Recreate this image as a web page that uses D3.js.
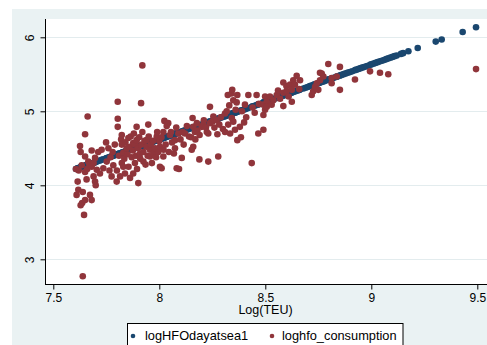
<!DOCTYPE html>
<html>
<head>
<meta charset="utf-8">
<script src="https://cdn.jsdelivr.net/npm/d3@7"></script>
<style>
  html, body { margin: 0; padding: 0; background: #ffffff; }
  svg { display: block; }
  text { font-family: "Liberation Sans", Arial, sans-serif; }
</style>
</head>
<body>
<svg id="chart" width="487" height="345"></svg>
<script>
// Observations: log TEU, observed log HFO consumption (null = missing), fitted log HFO per day at sea
const teu = [
  7.607, 7.610, 7.615, 7.618, 7.620, 7.626, 7.629, 7.629, 7.634, 7.636,
  7.639, 7.639, 7.645, 7.650, 7.650, 7.650, 7.650, 7.657, 7.660, 7.662,
  7.665, 7.670, 7.673, 7.681, 7.681, 7.681, 7.690, 7.690, 7.697, 7.697,
  7.700, 7.705, 7.712, 7.720, 7.728, 7.736, 7.749, 7.752, 7.760, 7.765,
  7.770, 7.775, 7.780, 7.783, 7.790, 7.799, 7.800, 7.804, 7.804, 7.804,
  7.810, 7.815, 7.820, 7.823, 7.823, 7.823, 7.830, 7.830, 7.835, 7.838,
  7.840, 7.846, 7.850, 7.854, 7.855, 7.860, 7.862, 7.865, 7.870, 7.875,
  7.877, 7.877, 7.880, 7.885, 7.885, 7.890, 7.893, 7.893, 7.895, 7.900,
  7.901, 7.905, 7.909, 7.910, 7.914, 7.915, 7.920, 7.920, 7.925, 7.925,
  7.930, 7.935, 7.940, 7.940, 7.945, 7.948, 7.950, 7.956, 7.956, 7.960,
  7.965, 7.970, 7.972, 7.980, 7.985, 7.988, 7.990, 7.995, 8.000, 8.003,
  8.003, 8.010, 8.011, 8.019, 8.019, 8.020, 8.024, 8.030, 8.035, 8.042,
  8.045, 8.050, 8.055, 8.060, 8.069, 8.074, 8.074, 8.080, 8.082, 8.090,
  8.093, 8.100, 8.106, 8.110, 8.115, 8.121, 8.130, 8.140, 8.150, 8.153,
  8.157, 8.160, 8.160, 8.168, 8.170, 8.177, 8.180, 8.189, 8.190, 8.200,
  8.208, 8.210, 8.220, 8.224, 8.231, 8.231, 8.239, 8.239, 8.250, 8.255,
  8.260, 8.270, 8.274, 8.278, 8.283, 8.290, 8.300, 8.310, 8.310, 8.318,
  8.323, 8.325, 8.330, 8.334, 8.341, 8.342, 8.344, 8.349, 8.349, 8.357,
  8.360, 8.365, 8.368, 8.368, 8.380, 8.385, 8.390, 8.400, 8.404, 8.410,
  8.420, 8.436, 8.440, 8.450, 8.459, 8.467, 8.470, 8.491, 8.491, 8.491,
  8.499, 8.499, 8.507, 8.507, 8.515, 8.522, 8.530, 8.538, 8.545, 8.554,
  8.560, 8.570, 8.575, 8.585, 8.585, 8.585, 8.595, 8.600, 8.600, 8.610,
  8.617, 8.625, 8.625, 8.632, 8.640, 8.648, 8.655, 8.660, 8.664, 8.680,
  8.690, 8.700, 8.710, 8.719, 8.726, 8.730, 8.735, 8.743, 8.750, 8.758,
  8.758, 8.766, 8.774, 8.780, 8.790, 8.797, 8.800, 8.813, 8.813, 8.820,
  8.830, 8.837, 8.840, 8.852, 8.852, 8.860, 8.870, 8.880, 8.890, 8.900,
  8.910, 8.923, 8.930, 8.940, 8.950, 8.960, 8.970, 8.980, 8.994, 9.000,
  9.010, 9.020, 9.030, 9.041, 9.050, 9.060, 9.070, 9.080, 9.090, 9.100,
  9.110, 9.120, 9.140, 9.150, 9.175, 9.219, 9.304, 9.332, 9.431, 9.494
];

const hfoConsumption = [
  4.22, 3.87, 4.05, 3.94, 4.20, 4.53, 4.45, 3.73, 4.27, 3.76,
  3.91, 2.77, 3.60, 4.69, 4.39, 4.18, 3.80, 4.08, 4.22, 4.93,
  4.32, 4.28, 3.87, 4.47, 4.25, 3.80, 4.12, 4.30, 4.05, 4.37,
  4.00, 4.21, 4.45, 4.16, 4.48, 4.23, 4.58, 4.32, 4.50, 4.20,
  4.38, 4.12, 4.45, 4.27, 4.55, 4.05, 4.20, 5.13, 4.90, 4.79,
  4.40, 4.12, 4.62, 4.30, 4.55, 4.68, 4.44, 4.25, 4.36, 4.16,
  4.58, 4.50, 4.42, 4.64, 4.25, 4.52, 4.10, 4.66, 4.38, 4.47,
  4.16, 4.57, 4.70, 4.30, 4.55, 4.40, 4.61, 4.79, 4.22, 4.50,
  4.03, 4.65, 4.43, 4.36, 5.11, 4.55, 5.62, 4.72, 4.32, 4.45,
  4.60, 4.28, 4.61, 4.52, 4.40, 4.82, 4.66, 4.39, 4.48, 4.55,
  4.30, 4.60, 4.43, 4.50, 4.38, 4.66, 4.72, 4.45, 4.60, 4.25,
  4.52, 4.65, 4.23, 4.39, 4.72, 4.48, 4.87, 4.55, 4.80, 4.84,
  4.45, 4.68, 4.72, 4.58, 4.43, 4.61, 4.50, 4.78, 4.23, 4.70,
  4.22, 4.62, 4.37, 4.72, 4.55, 4.70, 4.80, 4.66, 4.65, 4.48,
  4.91, 4.79, 4.52, 4.72, 4.62, 4.84, 4.74, 4.35, 4.68, 4.79,
  4.82, 4.88, 4.78, 4.72, 4.70, 4.32, 5.06, 4.84, 4.86, 4.93,
  4.78, 4.88, 4.69, 4.39, 4.82, 4.92, 4.76, 4.97, 4.72, 5.00,
  5.22, 4.82, 5.08, 4.70, 5.24, 4.91, 5.29, 5.15, 4.86, 4.75,
  5.02, 5.12, 5.22, 4.61, 4.79, 4.65, 5.00, 4.85, 5.09, 4.92,
  5.22, 4.30, 5.05, 4.98, 5.22, 4.70, 5.10, 5.09, 4.95, 4.75,
  5.20, 5.02, 5.13, 5.06, null, 5.20, 5.09, 5.15, null, 5.22,
  5.28, 5.17, null, 5.39, 5.25, 5.07, null, 5.27, 5.34, 5.20,
  5.36, 5.29, 5.13, 5.42, 5.36, 5.48, null, 5.30, 5.42, null,
  null, null, null, 5.22, 5.27, null, 5.33, 5.38, 5.29, 5.42,
  5.52, 5.51, 5.47, null, null, 5.64, null, 5.45, 5.38, null,
  null, 5.47, null, 5.60, 5.29, null, null, null, null, null,
  null, 5.43, null, null, null, null, null, null, 5.54, null,
  null, null, null, 5.52, null, null, null, 5.50, null, null,
  null, null, null, null, null, null, null, null, null, 5.57
];

const hfoFitted = [
  4.221, 4.224, 4.229, 4.232, 4.234, 4.240, 4.243, 4.243, 4.248, 4.251,
  4.254, 4.254, 4.260, 4.265, 4.265, 4.265, 4.265, 4.272, 4.275, 4.277,
  4.280, 4.285, 4.288, 4.296, 4.296, 4.296, 4.305, 4.305, 4.312, 4.312,
  4.315, 4.320, 4.328, 4.336, 4.344, 4.352, 4.365, 4.368, 4.376, 4.381,
  4.386, 4.391, 4.397, 4.400, 4.407, 4.416, 4.417, 4.421, 4.421, 4.421,
  4.427, 4.432, 4.437, 4.440, 4.440, 4.440, 4.447, 4.447, 4.452, 4.455,
  4.457, 4.463, 4.468, 4.472, 4.473, 4.478, 4.480, 4.483, 4.488, 4.493,
  4.495, 4.495, 4.498, 4.503, 4.503, 4.508, 4.511, 4.511, 4.513, 4.518,
  4.519, 4.523, 4.527, 4.528, 4.532, 4.533, 4.538, 4.538, 4.544, 4.544,
  4.549, 4.554, 4.559, 4.559, 4.564, 4.567, 4.569, 4.575, 4.575, 4.579,
  4.584, 4.589, 4.591, 4.599, 4.604, 4.607, 4.609, 4.615, 4.620, 4.623,
  4.623, 4.630, 4.631, 4.639, 4.639, 4.640, 4.644, 4.650, 4.655, 4.662,
  4.665, 4.670, 4.675, 4.680, 4.690, 4.695, 4.695, 4.701, 4.703, 4.711,
  4.714, 4.721, 4.727, 4.731, 4.736, 4.742, 4.751, 4.762, 4.772, 4.775,
  4.779, 4.782, 4.782, 4.790, 4.792, 4.799, 4.802, 4.811, 4.812, 4.822,
  4.831, 4.833, 4.843, 4.847, 4.854, 4.854, 4.862, 4.862, 4.873, 4.878,
  4.883, 4.893, 4.897, 4.901, 4.907, 4.914, 4.924, 4.934, 4.934, 4.942,
  4.947, 4.949, 4.954, 4.958, 4.965, 4.966, 4.968, 4.973, 4.973, 4.982,
  4.985, 4.990, 4.993, 4.993, 5.005, 5.010, 5.015, 5.025, 5.029, 5.035,
  5.045, 5.062, 5.066, 5.076, 5.085, 5.093, 5.096, 5.117, 5.117, 5.117,
  5.126, 5.126, 5.134, 5.134, 5.142, 5.149, 5.157, 5.165, 5.172, 5.181,
  5.187, 5.198, 5.203, 5.213, 5.213, 5.213, 5.223, 5.228, 5.228, 5.238,
  5.245, 5.253, 5.253, 5.260, 5.269, 5.277, 5.284, 5.289, 5.293, 5.309,
  5.319, 5.329, 5.340, 5.349, 5.356, 5.360, 5.365, 5.373, 5.380, 5.388,
  5.388, 5.396, 5.404, 5.411, 5.421, 5.428, 5.431, 5.444, 5.444, 5.451,
  5.461, 5.468, 5.471, 5.484, 5.484, 5.492, 5.502, 5.512, 5.522, 5.532,
  5.542, 5.556, 5.563, 5.573, 5.583, 5.593, 5.603, 5.613, 5.628, 5.634,
  5.644, 5.654, 5.664, 5.675, 5.684, 5.694, 5.705, 5.715, 5.725, 5.735,
  5.745, 5.755, 5.776, 5.786, 5.811, 5.856, 5.942, 5.970, 6.071, 6.135
];

const xTicks = [7.5, 8, 8.5, 9, 9.5];
const xTickLabels = ["7.5", "8", "8.5", "9", "9.5"];
const yTicks = [3, 4, 5, 6];
const yTickLabels = ["3", "4", "5", "6"];
const seriesNames = ["logHFOdayatsea1", "loghfo_consumption"];
const xTitle = "Log(TEU)";

const NAVY = "#1a476f";
const MAROON = "#90353b";
const BG = "#eaf2f3";

const svg = d3.select("#chart");
const W = 487, H = 345;

// outer graph region
svg.append("rect").attr("x", 12).attr("y", 9).attr("width", W - 12).attr("height", H - 9).attr("fill", BG);

// plot region
const plot = { left: 45, top: 19, right: 487, bottom: 284 };
svg.append("rect")
  .attr("x", plot.left).attr("y", plot.top)
  .attr("width", plot.right - plot.left).attr("height", plot.bottom - plot.top)
  .attr("fill", "#ffffff");

const x = d3.scaleLinear().domain([7.5, 9.5]).range([53.3, 477.3]);
const y = d3.scaleLinear().domain([3, 6]).range([259.3, 37.3]);

// horizontal grid lines
svg.append("g").selectAll("line").data(yTicks).join("line")
  .attr("x1", plot.left).attr("x2", plot.right)
  .attr("y1", d => Math.round(y(d)) + 0.5).attr("y2", d => Math.round(y(d)) + 0.5)
  .attr("stroke", "#e3ecee").attr("stroke-width", 1);

// points: fitted series first, observed consumption drawn over it
const obs = teu.map((t, i) => ({ t, fit: hfoFitted[i], cons: hfoConsumption[i] }));

svg.append("g").selectAll("circle").data(obs).join("circle")
  .attr("cx", d => x(d.t)).attr("cy", d => y(d.fit)).attr("r", 3.3)
  .attr("fill", NAVY);

svg.append("g").selectAll("circle").data(obs.filter(d => d.cons != null)).join("circle")
  .attr("cx", d => x(d.t)).attr("cy", d => y(d.cons)).attr("r", 3.3)
  .attr("fill", MAROON);

// axes
const yAxis = d3.axisLeft(y).tickValues(yTicks).tickFormat((d, i) => yTickLabels[i]).tickSize(5).tickSizeOuter(0);
const gy = svg.append("g").attr("transform", `translate(${plot.left + 0.5},0)`).call(yAxis);
gy.select(".domain").remove();
gy.append("line").attr("x1", 0).attr("x2", 0).attr("y1", plot.top).attr("y2", plot.bottom).attr("stroke", "#000");
gy.selectAll(".tick line").attr("stroke", "#000");
gy.selectAll(".tick text")
  .attr("x", null).attr("dy", null)
  .attr("transform", "translate(-11.5,0) rotate(-90)")
  .attr("text-anchor", "middle")
  .attr("y", 0)
  .attr("font-size", 12).attr("fill", "#000");

const xAxis = d3.axisBottom(x).tickValues(xTicks).tickFormat((d, i) => xTickLabels[i]).tickSize(5).tickSizeOuter(0);
const gx = svg.append("g").attr("transform", `translate(0,${plot.bottom + 0.5})`).call(xAxis);
gx.select(".domain").remove();
gx.append("line").attr("x1", plot.left).attr("x2", plot.right).attr("y1", 0).attr("y2", 0).attr("stroke", "#000");
gx.selectAll(".tick line").attr("stroke", "#000");
gx.selectAll(".tick text").attr("y", 17).attr("dy", null).attr("font-size", 12).attr("fill", "#000");

// axis title
svg.append("text").attr("x", 265.5).attr("y", 314).attr("text-anchor", "middle")
  .attr("font-size", 12.5).attr("fill", "#000").text(xTitle);

// legend
const leg = svg.append("g");
leg.append("rect").attr("x", 127.5).attr("y", 323.5).attr("width", 275.5).attr("height", 40)
  .attr("fill", "#ffffff").attr("stroke", "#000").attr("stroke-width", 1);
const legItems = [
  { name: seriesNames[0], color: NAVY, mx: 133, tx: 145 },
  { name: seriesNames[1], color: MAROON, mx: 272, tx: 282 }
];
legItems.forEach(it => {
  leg.append("circle").attr("cx", it.mx).attr("cy", 336).attr("r", 2.3).attr("fill", it.color);
  leg.append("text").attr("x", it.tx).attr("y", 340).attr("font-size", 12.8).attr("fill", "#000").text(it.name);
});
</script>
</body>
</html>
